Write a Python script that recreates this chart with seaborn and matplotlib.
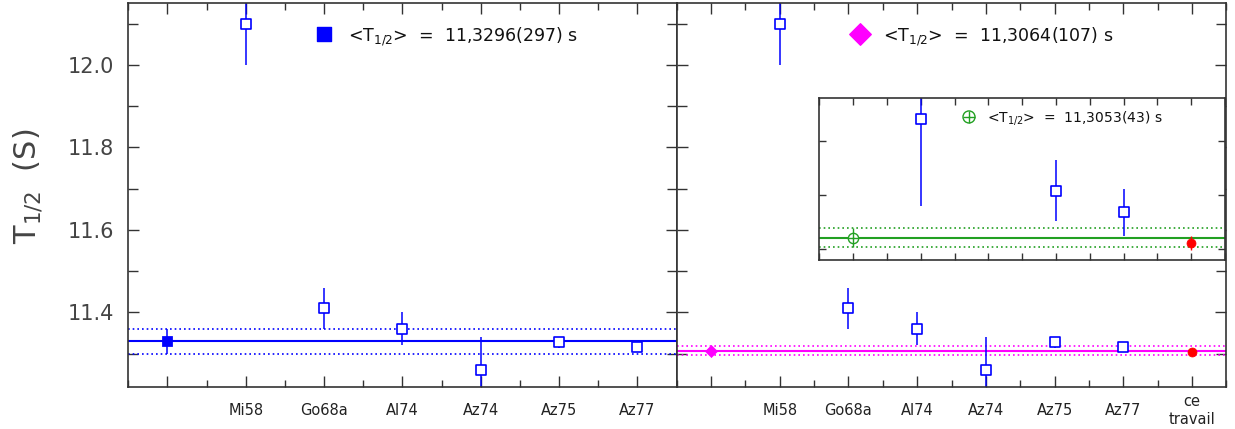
import numpy as np
import pandas as pd
import matplotlib.pyplot as plt
from matplotlib.ticker import MultipleLocator, FormatStrFormatter
import seaborn as sns

# mesures de T1/2 (s) de la litterature
refs = ['Mi58', 'Go68a', 'Al74', 'Az74', 'Az75', 'Az77']
t_half = [12.10, 11.41, 11.36, 11.26, 11.327, 11.317]
t_err = [0.10, 0.05, 0.04, 0.08, 0.014, 0.011]

# moyennes ponderees
moy_lit, err_lit = 11.3296, 0.0297      # litterature seule
moy_tot, err_tot = 11.3064, 0.0107      # avec ce travail
moy_sel, err_sel = 11.3053, 0.0043      # selection (encart)
ce_travail, err_ct = 11.3029, 0.0034

refs_encart = ['Al74', 'Az75', 'Az77']

txt_lit = r'<T$_{1/2}$>  =  11,3296(297) s'
txt_tot = r'<T$_{1/2}$>  =  11,3064(107) s'
txt_sel = r'<T$_{1/2}$>  =  11,3053(43) s'

df = pd.DataFrame({'ref': refs, 'pos': np.arange(1, len(refs) + 1), 't': t_half, 'err': t_err})
df_enc = df[df.ref.isin(refs_encart)]

sns.set_theme(style='ticks')
plt.rcParams['font.family'] = ['DejaVu Sans']
plt.rcParams['mathtext.fontset'] = 'dejavusans'

BLEU = '#0000ff'
MAG = '#ff00ff'
VERT = '#22a022'
ROUGE = '#ff0000'
GRIS = '#333333'
dot = (0, (1, 1.8))


def mesures(ax, d):
    ax.errorbar(d.pos, d.t, yerr=d.err, fmt='none', ecolor=BLEU, elinewidth=1.1, capsize=0, zorder=2)
    sns.scatterplot(data=d, x='pos', y='t', marker='s', s=48, facecolor='white',
                    edgecolor=BLEU, linewidth=1.2, ax=ax, zorder=3, legend=False)


def moyenne(ax, m, e, col):
    ax.axhline(m, color=col, lw=1.5, zorder=1)
    ax.axhline(m + e, color=col, lw=1.2, ls=dot, zorder=1)
    ax.axhline(m - e, color=col, lw=1.2, ls=dot, zorder=1)


def cadre(ax):
    for s in ax.spines.values():
        s.set_visible(True)
        s.set_color(GRIS)
        s.set_linewidth(1.2)
    ax.tick_params(which='both', direction='in', top=True, right=True, color=GRIS, width=1.0)
    ax.set_xlabel('')
    ax.set_ylabel('')


fig = plt.figure(figsize=(12.35, 4.29), dpi=100)
axL = fig.add_axes([0.1039, 0.0986, 0.4440, 0.8951])
axR = fig.add_axes([0.5479, 0.0986, 0.4451, 0.8951])
ylim = (11.2195, 12.151)

# panneau gauche
mesures(axL, df)
moyenne(axL, moy_lit, err_lit, BLEU)
axL.errorbar([0], [moy_lit], yerr=[err_lit], fmt='none', ecolor=BLEU, elinewidth=1.1, zorder=2)
sns.scatterplot(x=[0], y=[moy_lit], marker='s', s=48, color=BLEU, edgecolor=BLEU, ax=axL, zorder=3)
axL.set_xlim(-0.5, len(refs) + 0.5)
axL.set_ylim(*ylim)
axL.set_xticks(range(0, len(refs) + 1))
axL.set_xticklabels([''] + refs)

# panneau droit
mesures(axR, df)
moyenne(axR, moy_tot, err_tot, MAG)
sns.scatterplot(x=[0], y=[moy_tot], marker='D', s=38, color=MAG, edgecolor=MAG, ax=axR, zorder=3)
pos_ct = len(refs) + 1
axR.errorbar([pos_ct], [ce_travail], yerr=[err_ct], fmt='none', ecolor=ROUGE, elinewidth=1.0, zorder=2)
sns.scatterplot(x=[pos_ct], y=[ce_travail], marker='o', s=42, color=ROUGE, edgecolor=ROUGE, ax=axR, zorder=3)
axR.set_xlim(-0.5, pos_ct + 0.5)
axR.set_ylim(*ylim)
axR.set_xticks(range(0, pos_ct + 1))
axR.set_xticklabels([''] + refs + ['ce\ntravail'], linespacing=1.2)

for ax in (axL, axR):
    cadre(ax)
    ax.xaxis.set_minor_locator(MultipleLocator(0.5))
    ax.yaxis.set_major_locator(MultipleLocator(0.2))
    ax.yaxis.set_minor_locator(MultipleLocator(0.1))
    ax.yaxis.set_major_formatter(FormatStrFormatter('%.1f'))
    ax.tick_params(axis='x', which='major', length=8, pad=17, labelsize=10.5, labelcolor='#222222')
    ax.tick_params(axis='x', which='minor', length=5)
    ax.tick_params(axis='y', which='major', length=8, pad=10, labelsize=15, labelcolor='#444444')
    ax.tick_params(axis='y', which='minor', length=7)
    for lab in ax.get_xticklabels():
        lab.set_va('center')
axR.tick_params(axis='y', which='both', labelleft=False)

# legendes des moyennes
axL.scatter([0.357], [0.919], marker='s', s=110, color=BLEU, transform=axL.transAxes, clip_on=False)
axL.text(0.400, 0.912, txt_lit, transform=axL.transAxes, fontsize=12.5, color='#111111', va='center')
axR.scatter([0.333], [0.919], marker='D', s=120, color=MAG, transform=axR.transAxes, clip_on=False)
axR.text(0.375, 0.912, txt_tot, transform=axR.transAxes, fontsize=12.5, color='#111111', va='center')

# encart
axI = fig.add_axes([0.6634, 0.3939, 0.3285, 0.3785])
mesures(axI, df_enc)
moyenne(axI, moy_sel, err_sel, VERT)
axI.errorbar([2], [moy_sel], yerr=[err_sel], fmt='none', ecolor=VERT, elinewidth=1.0, zorder=2)
sns.scatterplot(x=[2], y=[moy_sel], marker='o', s=55, facecolor='white', edgecolor=VERT, linewidth=1.0, ax=axI, zorder=3)
axI.scatter([2], [moy_sel], marker='+', s=55, color=VERT, linewidths=1.0, zorder=4)
axI.errorbar([pos_ct], [ce_travail], yerr=[err_ct], fmt='none', ecolor=ROUGE, elinewidth=1.0, zorder=2)
sns.scatterplot(x=[pos_ct], y=[ce_travail], marker='o', s=42, color=ROUGE, edgecolor=ROUGE, ax=axI, zorder=3)
axI.set_xlim(1.5, pos_ct + 0.5)
axI.set_ylim(11.295, 11.370)
cadre(axI)
axI.xaxis.set_major_locator(MultipleLocator(0.5))
axI.yaxis.set_major_locator(MultipleLocator(0.025))
axI.tick_params(which='both', length=5, labelbottom=False, labelleft=False)
axI.scatter([0.369], [0.881], marker='o', s=75, facecolor='none', edgecolor=VERT, linewidths=1.0,
            transform=axI.transAxes, clip_on=False)
axI.scatter([0.369], [0.881], marker='+', s=75, color=VERT, linewidths=1.0, transform=axI.transAxes, clip_on=False)
axI.text(0.413, 0.872, txt_sel, transform=axI.transAxes, fontsize=10, color='#111111', va='center')

fig.text(0.022, 0.565, r'T$_{1/2}$  (S)', rotation=90, ha='center', va='center', fontsize=22, color='#444444')

fig.savefig('out.png', dpi=100)
